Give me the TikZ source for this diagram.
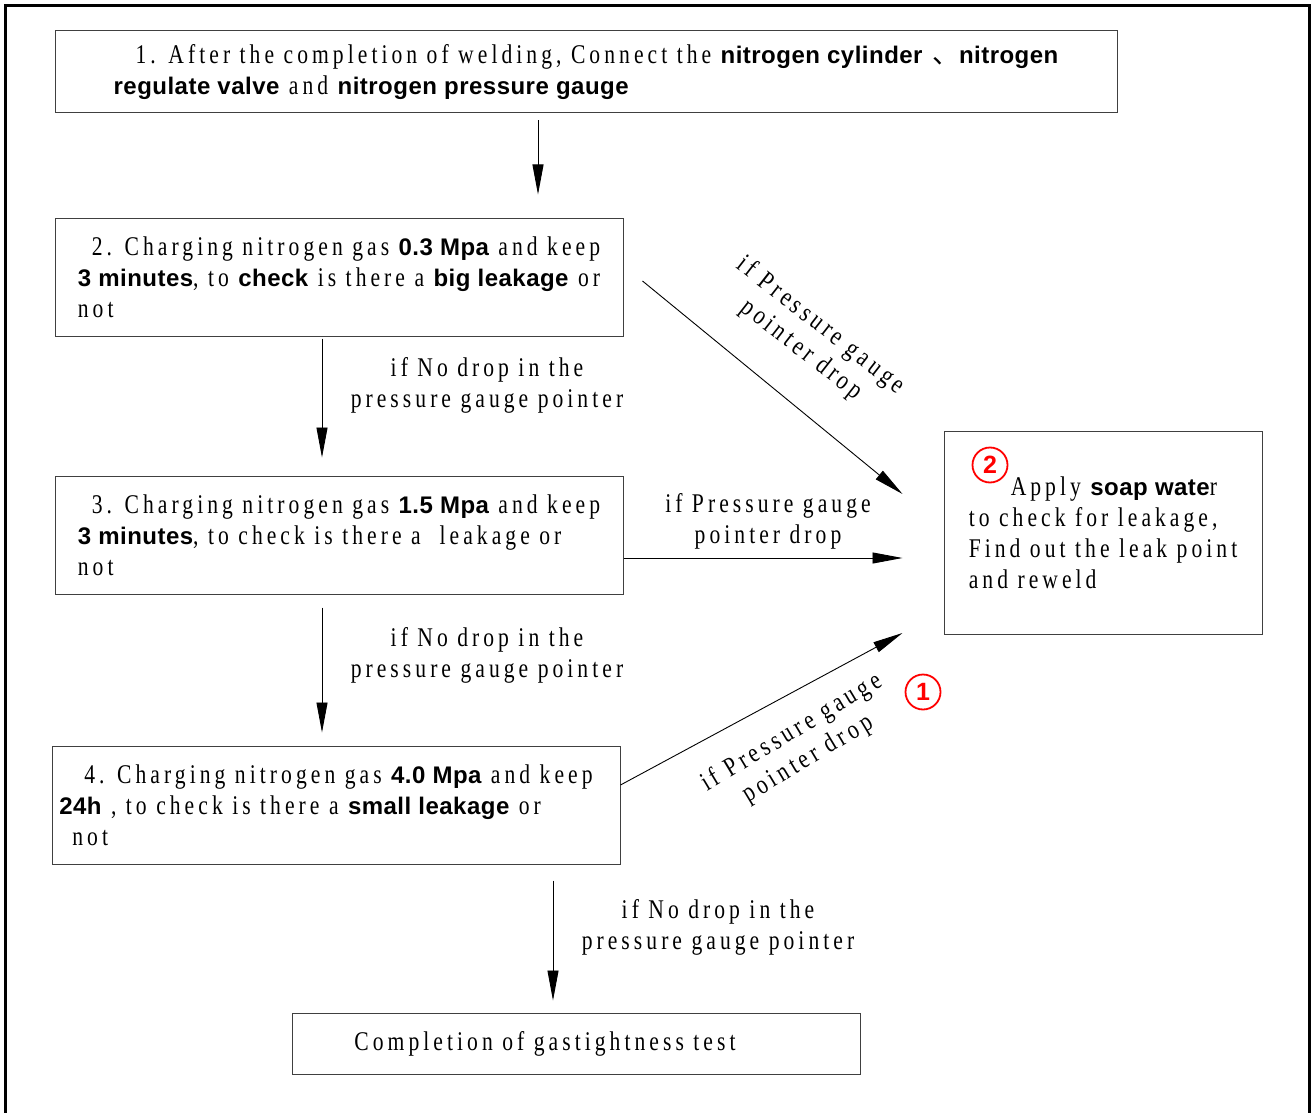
\documentclass[tikz,border=0pt]{standalone}
\usepackage{fontspec}
\setmainfont{Liberation Serif}[FakeStretch=0.8, LetterSpace=15, WordSpace=1.0]
\newfontfamily\bsf{Liberation Sans}[LetterSpace=2]
\newfontfamily\cjk{Noto Sans CJK SC}
\usetikzlibrary{arrows.meta,calc}
\newcommand\bt[1]{{\fontsize{24}{31}\bsf\bfseries #1}}
\tikzset{
  x=1pt, y=-1pt,
  every node/.style={font=\fontsize{27}{31}\selectfont},
  box/.style={draw=black!75, line width=1pt, align=left, inner sep=0pt},
  arr/.style={draw=black, line width=0.9pt, -{Triangle[length=30pt,width=11pt]}},
  lbl/.style={align=center, inner sep=0pt},
  circ/.style={circle, draw=red, line width=1.8pt, text=red, inner sep=0pt, minimum size=35pt,
    font=\fontsize{25}{25}\bsf\bfseries}
}
\begin{document}
\begin{tikzpicture}
\useasboundingbox (0,0) rectangle (1312,1113);
\draw[line width=3.5pt, line join=miter] (5.5,1113) -- (5.5,5.5) -- (1309.5,5.5) -- (1309.5,1113);

\node[box, minimum width=1062pt, minimum height=82pt] (b1) at (586,72)
 {\hspace*{22pt}1. After the completion of welding, Connect the \bt{nitrogen cylinder} {\cjk 、}\bt{nitrogen}\\
  \bt{regulate valve} and \bt{nitrogen pressure gauge}};
\node[box, minimum width=568pt, minimum height=118pt] (b2) at (339,277)
 {\hspace*{14pt}2. Charging nitrogen gas \bt{0.3 Mpa} and keep\\
  \bt{3 minutes}, to \bt{check} is there a \bt{big leakage} or\\
  not};
\node[box, minimum width=568pt, minimum height=118pt] (b3) at (339,535)
 {\hspace*{14pt}3. Charging nitrogen gas \bt{1.5 Mpa} and keep\\
  \bt{3 minutes}, to check is there a \ leakage or\\
  not};
\node[box, minimum width=568pt, minimum height=118pt] (b4) at (336,805)
 {\hspace*{25pt}4. Charging nitrogen gas \bt{4.0 Mpa} and keep\hspace*{20pt}\\
  \bt{24h} , to check is there a \bt{small leakage} or\\
  \hspace*{13pt}not};
\node[box, minimum width=568pt, minimum height=61pt] (b5) at (576,1043.5)
 {Completion of gastightness test\hspace*{62pt}};
\node[box, minimum width=318pt, minimum height=203pt] (soap) at (1103,532.5)
 {\hspace*{42pt}Apply \bt{soap wate}r\\
  to check for leakage,\\
  Find out the leak point\\
  and reweld};
\node[circ] (c2) at (990,465) {2};
\node[circ] (c1) at (923,692) {1};

\coordinate (xa) at (538,0);
\coordinate (xb) at (322,0);
\coordinate (xc) at (553,0);
\draw[arr, shorten <=7pt, shorten >=23pt] (b1.south -| xa) -- (b2.north -| xa);
\draw[arr, shorten <=2pt, shorten >=18pt] (b2.south -| xb) -- (b3.north -| xb);
\draw[arr, shorten <=13pt, shorten >=13pt] (b3.south -| xb) -- (b4.north -| xb);
\draw[arr, shorten <=16pt, shorten >=12pt] (b4.south -| xc) -- (b5.north -| xc);
\draw[arr] ($(b2.east)+(19,4)$) -- ($(soap.west)+(-41,-38.5)$);
\draw[arr] ($(b3.east)+(0,23)$) -- ($(soap.west)+(-41,25.5)$);
\draw[arr] ($(b4.east)+(0,-20)$) -- ($(soap.west)+(-41,100.5)$);

\node[lbl] (l23) at (487,385) {if No drop in the\\pressure gauge pointer};
\node[lbl] (l34) at (487,655) {if No drop in the\\pressure gauge pointer};
\node[lbl] (l45) at (718,927) {if No drop in the\\pressure gauge pointer};
\node[lbl] (l3s) at (768,521) {if Pressure gauge\\pointer drop};
\node[lbl, rotate=-38] (l2s) at (811,338) {if Pressure gauge\\pointer drop};
\node[lbl, rotate=31] (l4s) at (800,746) {if Pressure gauge\\pointer drop};
\end{tikzpicture}
\end{document}
